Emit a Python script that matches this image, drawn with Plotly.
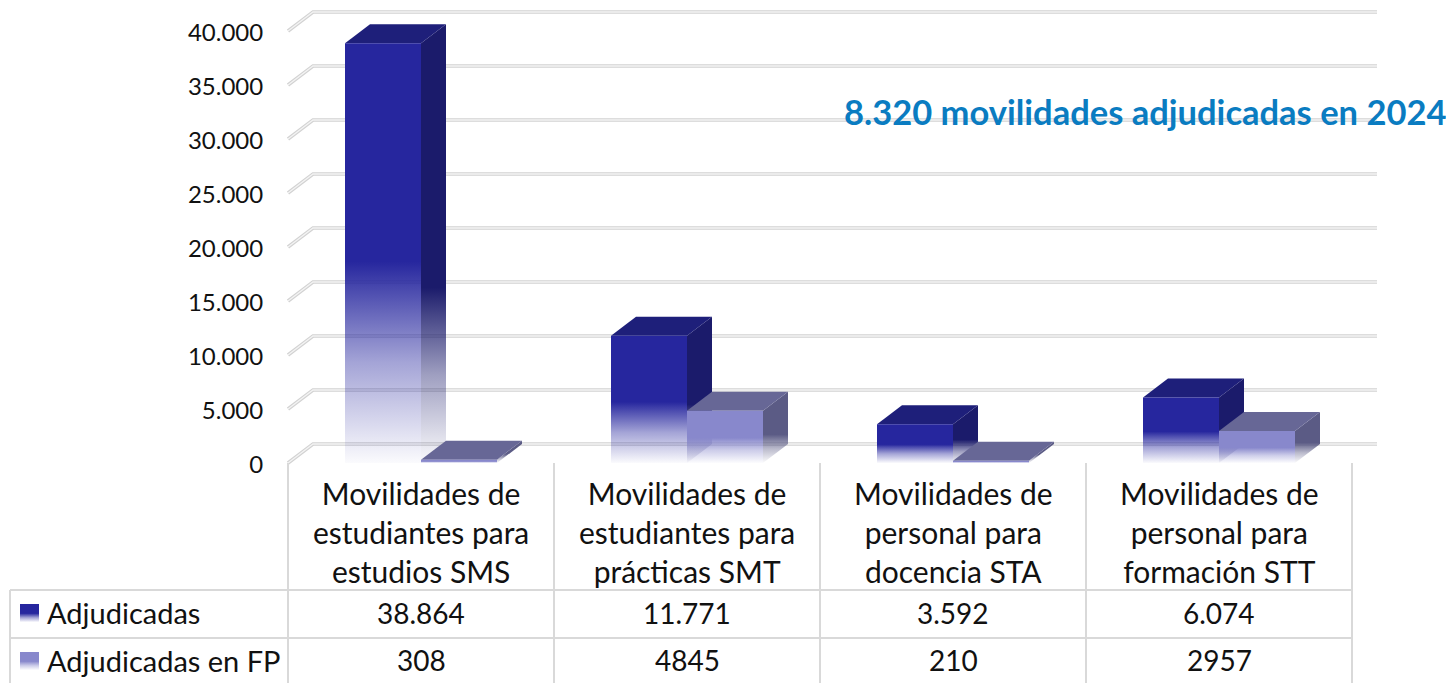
import plotly.graph_objects as go

categories = [
    "Movilidades de<br>estudiantes para<br>estudios SMS",
    "Movilidades de<br>estudiantes para<br>prácticas SMT",
    "Movilidades de<br>personal para<br>docencia STA",
    "Movilidades de<br>personal para<br>formación STT",
]
adjudicadas = [38864, 11771, 3592, 6074]
adjudicadas_fp = [308, 4845, 210, 2957]
labels_adjudicadas = ["38.864", "11.771", "3.592", "6.074"]
labels_fp = ["308", "4845", "210", "2957"]
series_names = ["Adjudicadas", "Adjudicadas en FP"]
tick_values = [0, 5000, 10000, 15000, 20000, 25000, 30000, 35000, 40000]
title_text = "8.320 movilidades adjudicadas en 2024"

W, H = 1446, 683
X0, CAT_W = 288, 266
Y0, PX_PER_UNIT = 463, 432 / 40000


def dx(px):
    return (px - X0) / CAT_W


def dy(py):
    return (Y0 - py) / PX_PER_UNIT


BAR_W = 76 / CAT_W
DEPTH_X = 25 / CAT_W
DEPTH_Y = 19 / PX_PER_UNIT
FONT = "Lato"
TXT = "#111111"
LINE = "#d9d9d9"

fig = go.Figure()


def fade(rgb, knee=0.48):
    r, g, b = rgb
    return dict(
        type="vertical",
        colorscale=[
            [0.0, f"rgba({r},{g},{b},0.02)"],
            [knee * 0.5, f"rgba({r},{g},{b},0.42)"],
            [knee * 0.85, f"rgba({r},{g},{b},0.82)"],
            [knee, f"rgba({r},{g},{b},1)"],
            [1.0, f"rgba({r},{g},{b},1)"],
        ],
    )


def poly(xs, ys, color=None, gradient=None):
    kw = dict(fillgradient=gradient) if gradient else dict(fillcolor=color)
    fig.add_trace(go.Scatter(x=xs, y=ys, mode="lines", fill="toself", line=dict(width=0),
                             hoverinfo="skip", showlegend=False, **kw))


def line(xs, ys, color, width):
    fig.add_trace(go.Scatter(x=xs, y=ys, mode="lines", line=dict(color=color, width=width),
                             hoverinfo="skip", showlegend=False))


# receding gridlines
gx, gy = [], []
for t in tick_values:
    gx += [0, DEPTH_X, 4 + DEPTH_X, None]
    gy += [t, t + DEPTH_Y, t + DEPTH_Y, None]
line(gx, gy, "#d2d2d2", 3.5)
line(gx, gy, "#f3f3f3", 1.3)


def bar(left, value, front, top, side):
    r = left + BAR_W
    poly([r, r + DEPTH_X, r + DEPTH_X, r, r], [0, DEPTH_Y, value + DEPTH_Y, value, 0], gradient=fade(side, 0.4))
    poly([left, r, r + DEPTH_X, left + DEPTH_X, left],
         [value, value, value + DEPTH_Y, value + DEPTH_Y, value], color=f"rgb{top}")
    poly([left, r, r, left, left], [0, 0, value, value, 0], gradient=fade(front))


DARK = ((38, 38, 158), (30, 31, 122), (27, 27, 107))
LIGHT = ((136, 136, 204), (103, 103, 150), (91, 91, 133))

for i in range(len(categories)):
    c = i + 0.5
    bar(c - BAR_W, adjudicadas[i], *DARK)
    bar(c, adjudicadas_fp[i], *LIGHT)

# data table grid
for i in range(5):
    line([i, i], [0, dy(H)], LINE, 2)
line([dx(10), dx(10)], [dy(590), dy(H)], LINE, 2)
line([dx(10), 4], [dy(590), dy(590)], LINE, 2)
line([dx(10), 4], [dy(638), dy(638)], LINE, 2)

# legend keys
for row_mid, rgb in ((613, DARK[0]), (661, LIGHT[0])):
    xs = [dx(20), dx(39), dx(39), dx(20), dx(20)]
    ys = [dy(row_mid + 9), dy(row_mid + 9), dy(row_mid - 9), dy(row_mid - 9), dy(row_mid + 9)]
    poly(xs, ys, gradient=fade(rgb))

ann = []
for i, cat in enumerate(categories):
    ann.append(dict(x=i + 0.5, y=dy(532), text=cat, font=dict(size=30, color=TXT, family=FONT),
                    showarrow=False, align="center", xanchor="center", yanchor="middle"))
    ann.append(dict(x=i + 0.5, y=dy(612.5), text=labels_adjudicadas[i], font=dict(size=28, color=TXT, family=FONT),
                    showarrow=False, xanchor="center", yanchor="middle"))
    ann.append(dict(x=i + 0.5, y=dy(660), text=labels_fp[i], font=dict(size=28, color=TXT, family=FONT),
                    showarrow=False, xanchor="center", yanchor="middle"))
for name, py in zip(series_names, (612.5, 660)):
    ann.append(dict(x=dx(45), y=dy(py), text=name, font=dict(size=29, color=TXT, family=FONT),
                    showarrow=False, xanchor="left", yanchor="middle"))
ann.append(dict(x=dx(842), y=dy(111), text=f"<b>{title_text}</b>",
                font=dict(size=34.5, color="#0a7cc1", family=FONT),
                showarrow=False, xanchor="left", yanchor="middle"))

fig.update_layout(
    width=W, height=H,
    margin=dict(l=0, r=0, t=0, b=0),
    paper_bgcolor="white", plot_bgcolor="white",
    showlegend=False,
    separators=",.",
    annotations=ann,
    xaxis=dict(range=[dx(0), dx(W)], domain=[0, 1], visible=False, fixedrange=True),
    yaxis=dict(
        range=[dy(H), dy(0)], domain=[0, 1],
        anchor="free", position=X0 / W,
        tickvals=tick_values, tickformat=",d",
        showgrid=False, zeroline=False, showline=False,
        ticks="outside", ticklen=20, tickcolor="rgba(0,0,0,0)",
        ticklabelshift=2,
        tickfont=dict(size=24, color=TXT, family=FONT),
        fixedrange=True,
    ),
)
fig.write_html("out.html", config=dict(displayModeBar=False),
               post_script="document.body.style.margin='0';document.body.style.overflow='hidden';")
